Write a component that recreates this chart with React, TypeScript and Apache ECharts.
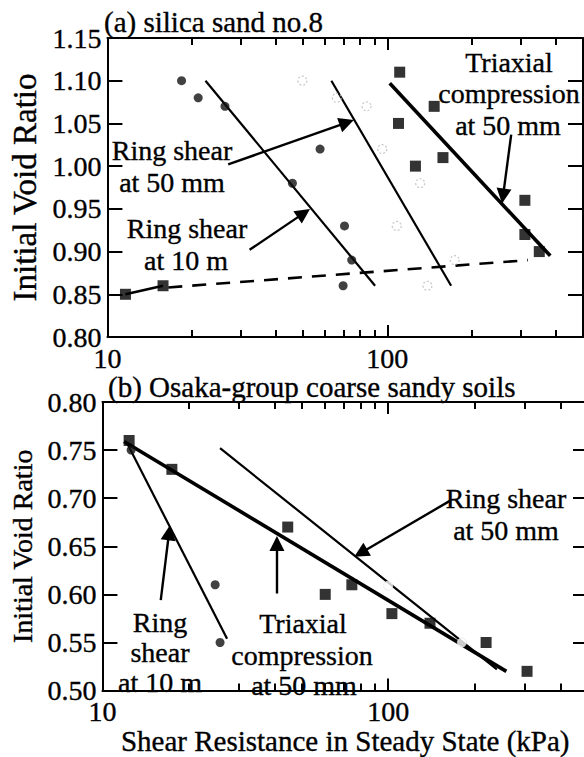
import React, { useEffect, useRef } from "react";
import * as echarts from "echarts";

const FONT = "'Liberation Serif', 'Times New Roman', 'DejaVu Serif', serif";
const X_MIN = 10;
const X_MAX = 500;
const minorTickValues = [20, 30, 40, 50, 60, 70, 80, 90, 200, 300, 400];
const majorTickLabels = ["10", "100"];

// ---------- (a) silica sand no.8 ----------
const aRing10m = [[18.4, 1.10], [21.1, 1.08], [26.3, 1.07], [57.5, 1.02], [45.8, 0.98], [70.3, 0.93], [74.6, 0.89], [69.5, 0.86]];
const aRing50mm = [[49.7, 1.10], [66, 1.08], [84.3, 1.07], [95.9, 1.02], [131, 0.98], [108, 0.93], [174, 0.89], [139, 0.86]];
const aTriaxial = [[11.6, 0.85], [15.8, 0.86], [110.7, 1.11], [109.6, 1.05], [147, 1.07], [126, 1.0], [158, 1.01], [310, 0.96], [310, 0.92], [349, 0.90]];
const aFit10m = [[22.4, 1.10], [90.4, 0.86]];
const aFit50mm = [[63.1, 1.10], [169, 0.86]];
const aFitTri = [[102, 1.097], [382, 0.895]];
const aLowLink = [[11.6, 0.85], [15.8, 0.86]];
const aLowDashed = [[16.5, 0.858], [318, 0.89]];
const aArrow50 = [[27, 1.002], [71.6, 1.051]];
const aArrow10 = [[32.2, 0.902], [50.3, 0.945]];
const aArrowTri = [[277, 1.037], [259, 0.965]];

// ---------- (b) Osaka-group coarse sandy soils ----------
const bTriaxial = [[12.4, 0.76], [17.5, 0.73], [44.5, 0.67], [60.2, 0.60], [74.6, 0.61], [103, 0.58], [140, 0.57], [220, 0.55], [306, 0.52]];
const bRing10m = [[12.6, 0.75], [24.8, 0.61], [25.8, 0.55]];
const bRing50mm = [[100, 0.609], [181, 0.55]];
const bFitTri = [[11.9, 0.759], [259, 0.52]];
const bFit10m = [[12.2, 0.757], [27.3, 0.554]];
const bFit50mm = [[25.8, 0.752], [240, 0.522]];
const bArrow10 = [[16.0, 0.594], [17.1, 0.664]];
const bArrowTri = [[40.8, 0.601], [40.8, 0.653]];
const bArrow50 = [[166, 0.698], [80.1, 0.643]];

const black = "#000";
const heavy = { textBorderColor: "#000", textBorderWidth: 0.35 };

function xAxes(gridIndex: number, name?: string) {
  const minorLog = minorTickValues.map((v) => Math.log10(v));
  const common = {
    gridIndex,
    splitLine: { show: false },
    axisLine: { show: true, onZero: false, lineStyle: { color: black, width: 2 } },
  };
  return [
    {
      ...common,
      type: "log",
      min: X_MIN,
      max: X_MAX,
      position: "bottom",
      axisTick: { inside: true, length: 12, lineStyle: { color: black, width: 2 } },
      axisLabel: {
        color: black,
        fontFamily: FONT,
        fontSize: 28,
        lineHeight: 20,
        margin: 11,
        showMaxLabel: false,
        ...heavy,
        formatter: (v: number) => {
          const s = String(Math.round(v));
          return majorTickLabels.includes(s) ? s : "";
        },
      },
      name: name || "",
      nameLocation: "middle",
      nameGap: 29,
      nameTextStyle: { color: black, fontFamily: FONT, fontSize: 29, ...heavy },
    },
    {
      ...common,
      type: "log",
      min: X_MIN,
      max: X_MAX,
      position: "top",
      axisTick: { inside: true, length: 12, lineStyle: { color: black, width: 2 } },
      axisLabel: { show: false },
    },
    {
      ...common,
      type: "value",
      min: 1,
      max: Math.log10(X_MAX),
      position: "bottom",
      axisLine: { show: false, onZero: false },
      axisTick: { inside: true, length: 7, customValues: minorLog, lineStyle: { color: black, width: 2 } },
      axisLabel: { show: false },
    },
    {
      ...common,
      type: "value",
      min: 1,
      max: Math.log10(X_MAX),
      position: "top",
      axisLine: { show: false, onZero: false },
      axisTick: { inside: true, length: 7, customValues: minorLog, lineStyle: { color: black, width: 2 } },
      axisLabel: { show: false },
    },
  ];
}

function yAxes(gridIndex: number, min: number, max: number, nameGap: number, nameSize: number) {
  const base = {
    gridIndex,
    type: "value",
    min,
    max,
    interval: 0.05,
    splitLine: { show: false },
    axisLine: { show: true, onZero: false, lineStyle: { color: black, width: 2 } },
    axisTick: { inside: true, length: 15, lineStyle: { color: black, width: 2 } },
  };
  return [
    {
      ...base,
      position: "left",
      axisLabel: {
        color: black,
        fontFamily: FONT,
        fontSize: 28,
        lineHeight: 20,
        margin: 6,
        ...heavy,
        formatter: (v: number) => v.toFixed(2),
      },
      name: "Initial Void Ratio",
      nameLocation: "middle",
      nameRotate: 90,
      nameGap,
      nameTextStyle: { color: black, fontFamily: FONT, fontSize: nameSize, ...heavy },
    },
    { ...base, position: "right", axisLabel: { show: false } },
  ];
}

function fitLine(data: number[][], xi: number, yi: number, width: number, type: any = "solid") {
  return {
    type: "line",
    xAxisIndex: xi,
    yAxisIndex: yi,
    data,
    symbol: "none",
    silent: true,
    lineStyle: { color: black, width, type },
    z: 3,
  };
}

function arrow(data: number[][], xi: number, yi: number) {
  return {
    type: "lines",
    coordinateSystem: "cartesian2d",
    xAxisIndex: xi,
    yAxisIndex: yi,
    symbol: ["none", "triangle"],
    symbolSize: 15,
    lineStyle: { color: black, width: 2.4, opacity: 1, curveness: 0 },
    data: [{ coords: data }],
    z: 4,
  };
}

function txt(text: string, x: number, y: number, align: string = "center", size = 28) {
  return {
    type: "text",
    x,
    y,
    style: {
      text,
      fill: black,
      stroke: black,
      lineWidth: 0.35,
      font: `${size}px ${FONT}`,
      textAlign: align,
      textVerticalAlign: "middle",
    },
    z: 10,
  };
}

export default function App() {
  const ref = useRef<HTMLDivElement>(null);
  useEffect(() => {
    if (!ref.current) return;
    const chart = echarts.init(ref.current, undefined, { renderer: "svg" });
    const option: any = {
      animation: false,
      backgroundColor: "#fff",
      grid: [
        { left: 97, top: 38, right: 17, bottom: 420 },
        { left: 100, top: 402, right: 12, bottom: 57 },
      ],
      xAxis: [...xAxes(0), ...xAxes(1, "Shear Resistance in Steady State (kPa)")],
      yAxis: [...yAxes(0, 0.8, 1.15, 58, 33), ...yAxes(1, 0.5, 0.8, 63, 28)],
      series: [
        // (a)
        fitLine(aFit10m, 0, 0, 2.2),
        fitLine(aFit50mm, 0, 0, 2.2),
        fitLine(aFitTri, 0, 0, 3.6),
        fitLine(aLowLink, 0, 0, 2.5),
        { ...fitLine(aLowDashed, 0, 0, 2.5), lineStyle: { color: black, width: 2.6, type: [14, 10] } },
        {
          type: "scatter",
          name: "Ring shear at 10 m",
          xAxisIndex: 0,
          yAxisIndex: 0,
          data: aRing10m,
          symbol: "circle",
          symbolSize: 9,
          itemStyle: { color: "#111" },
          z: 5,
        },
        {
          type: "scatter",
          name: "Ring shear at 50 mm",
          xAxisIndex: 0,
          yAxisIndex: 0,
          data: aRing50mm,
          symbol: "circle",
          symbolSize: 9,
          itemStyle: { color: "rgba(255,255,255,0)", borderColor: "#b8b8b8", borderWidth: 1.2, borderType: [2, 2] },
          z: 5,
        },
        {
          type: "scatter",
          name: "Triaxial compression at 50 mm",
          xAxisIndex: 0,
          yAxisIndex: 0,
          data: aTriaxial,
          symbol: "rect",
          symbolSize: 11,
          itemStyle: { color: "#000" },
          z: 5,
        },
        arrow(aArrow50, 0, 0),
        arrow(aArrow10, 0, 0),
        arrow(aArrowTri, 0, 0),
        // (b)
        fitLine(bFitTri, 4, 2, 3.6),
        fitLine(bFit10m, 4, 2, 2.2),
        fitLine(bFit50mm, 4, 2, 2.2),
        {
          type: "scatter",
          name: "Ring shear at 10 m (b)",
          xAxisIndex: 4,
          yAxisIndex: 2,
          data: bRing10m,
          symbol: "circle",
          symbolSize: 9,
          itemStyle: { color: "#111" },
          z: 5,
        },
        {
          type: "scatter",
          name: "Ring shear at 50 mm (b)",
          xAxisIndex: 4,
          yAxisIndex: 2,
          data: bRing50mm,
          symbol: "circle",
          symbolSize: 9,
          itemStyle: { color: "#fff", borderColor: "#e6e6e6", borderWidth: 1 },
          z: 6,
        },
        {
          type: "scatter",
          name: "Triaxial compression at 50 mm (b)",
          xAxisIndex: 4,
          yAxisIndex: 2,
          data: bTriaxial,
          symbol: "rect",
          symbolSize: 11,
          itemStyle: { color: "#000" },
          z: 5,
        },
        arrow(bArrow10, 4, 2),
        arrow(bArrowTri, 4, 2),
        arrow(bArrow50, 4, 2),
      ],
      graphic: [
        txt("(a) silica sand no.8", 104, 22, "left", 29),
        txt("Ring shear", 172, 150),
        txt("at 50 mm", 172, 182),
        txt("Ring shear", 187, 228),
        txt("at 10 m", 186, 260),
        txt("Triaxial", 509, 62),
        txt("compression", 509, 93),
        txt("at 50 mm", 508, 125),
        txt("(b) Osaka-group coarse sandy soils", 108, 387, "left", 29),
        txt("Ring shear", 506, 498),
        txt("at 50 mm", 506, 530),
        txt("Ring", 160, 622),
        txt("shear", 160, 652),
        txt("at 10 m", 160, 682),
        txt("Triaxial", 303, 623),
        txt("compression", 302, 655),
        txt("at 50 mm", 304, 685),
      ],
    };
    chart.setOption(option);
    return () => chart.dispose();
  }, []);
  return (
    <div
      style={{
        position: "fixed",
        left: 0,
        top: 0,
        width: 584,
        height: 757,
        overflow: "hidden",
        background: "#fff",
      }}
    >
      <div ref={ref} style={{ width: 600, height: 757 }} />
    </div>
  );
}
